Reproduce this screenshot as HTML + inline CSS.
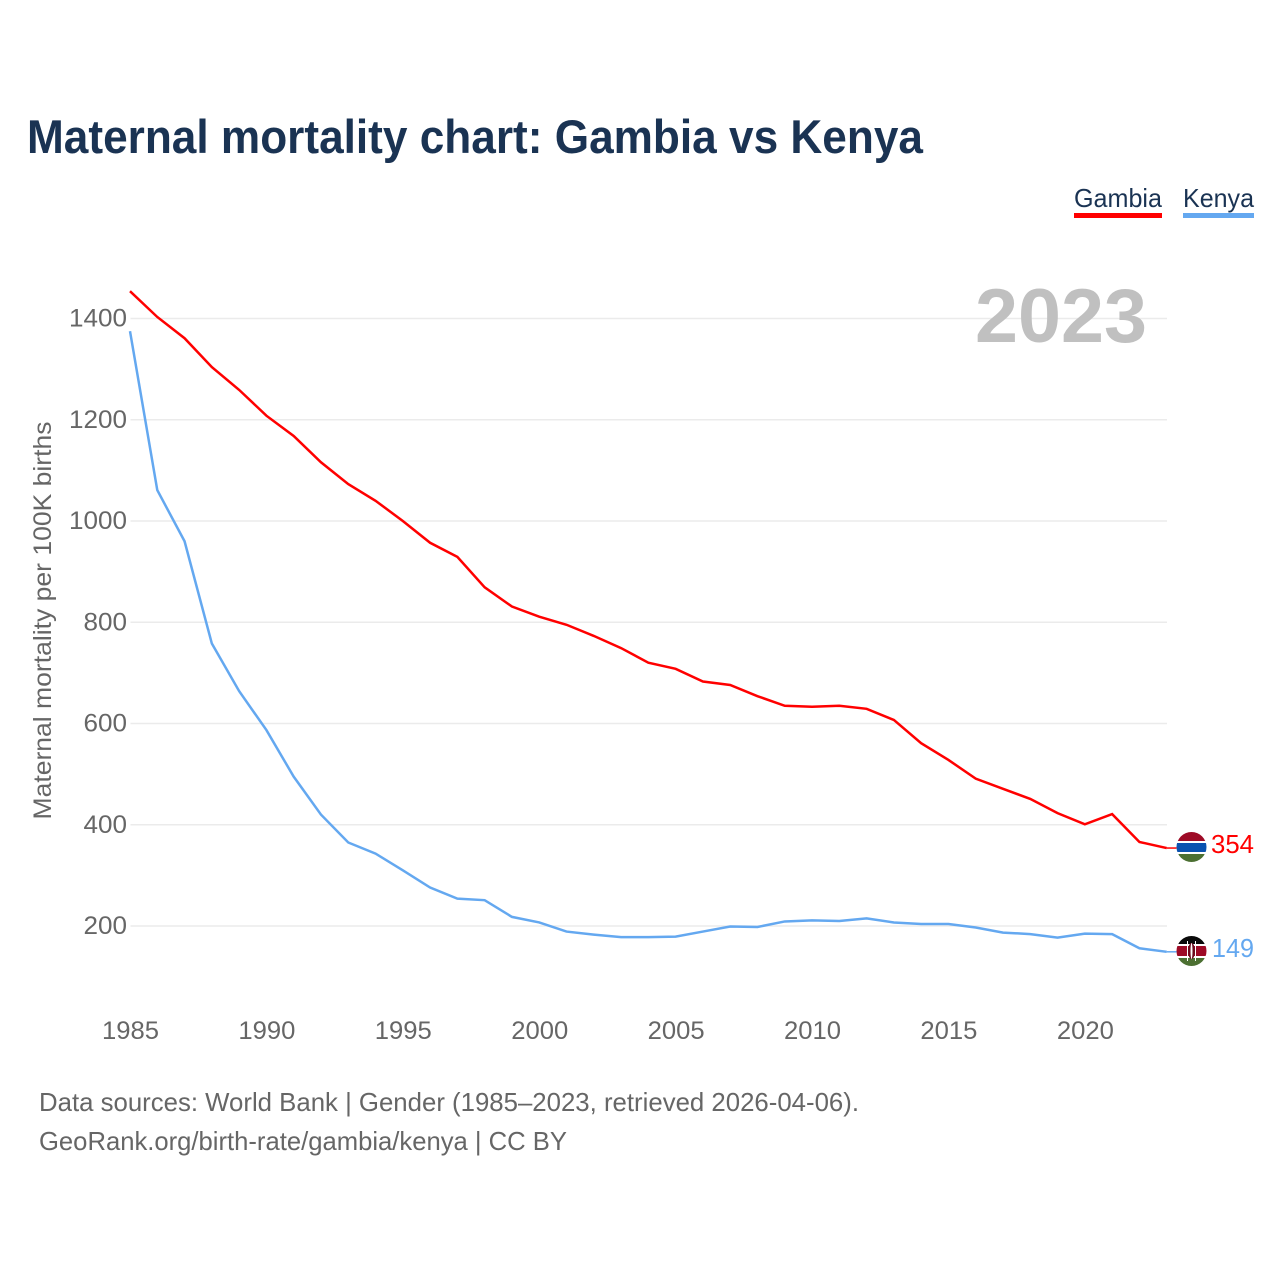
<!DOCTYPE html>
<html lang="en">
<head>
<meta charset="utf-8">
<title>Maternal mortality chart: Gambia vs Kenya</title>
<style>
html,body{margin:0;padding:0;background:#fff;}
svg{display:block;font-family:"Liberation Sans",sans-serif;}
</style>
</head>
<body>
<svg id="chart" xmlns="http://www.w3.org/2000/svg" width="1280" height="1280" viewBox="0 0 1280 1280">
  <rect x="0" y="0" width="1280" height="1280" fill="#ffffff"/>
  <text x="27" y="153" font-size="47" font-weight="700" fill="#1a3353" textLength="896" lengthAdjust="spacingAndGlyphs">Maternal mortality chart: Gambia vs Kenya</text>

  <g>
    <text x="1074" y="207" font-size="26" fill="#1a3353" textLength="88" lengthAdjust="spacingAndGlyphs">Gambia</text>
    <rect x="1074" y="213" width="88" height="5" fill="#ff0000"/>
  </g>
  <g>
    <text x="1183" y="207" font-size="26" fill="#1a3353" textLength="71" lengthAdjust="spacingAndGlyphs">Kenya</text>
    <rect x="1183" y="213" width="71" height="5" fill="#64a8f0"/>
  </g>

  <g id="grid"></g>
  <text x="975" y="342" font-size="76" font-weight="700" fill="#c0c0c0" textLength="172" lengthAdjust="spacingAndGlyphs">2023</text>
  <g id="yticks"></g>
  <g id="xticks"></g>
  <text transform="translate(51,620.5) rotate(-90)" font-size="25" fill="#666666" text-anchor="middle" textLength="398" lengthAdjust="spacingAndGlyphs">Maternal mortality per 100K births</text>

  <g id="series"></g>

  <defs>
    <clipPath id="clip-gambia"><circle cx="1191.5" cy="847" r="15"/></clipPath>
    <clipPath id="clip-kenya"><circle cx="1191.5" cy="951" r="15"/></clipPath>
  </defs>

  <g id="flag-gambia" clip-path="url(#clip-gambia)">
    <rect x="1176" y="832" width="31" height="31" fill="#ffffff"/>
    <rect x="1176" y="832" width="31" height="9" fill="#9e0b26"/>
    <rect x="1176" y="843" width="31" height="9" fill="#0a52b0"/>
    <rect x="1176" y="854" width="31" height="9" fill="#4c7032"/>
  </g>
  <g id="flag-kenya" clip-path="url(#clip-kenya)">
    <rect x="1176" y="936" width="31" height="31" fill="#ffffff"/>
    <rect x="1176" y="936" width="31" height="8" fill="#0a0a0a"/>
    <rect x="1176" y="946" width="31" height="10" fill="#9e0b26"/>
    <rect x="1176" y="958" width="31" height="9" fill="#4c7032"/>
    <line x1="1187.5" y1="941" x2="1187.5" y2="961" stroke="#ffffff" stroke-width="1"/>
    <line x1="1195.5" y1="941" x2="1195.5" y2="961" stroke="#ffffff" stroke-width="1"/>
    <ellipse cx="1191.5" cy="951" rx="3.5" ry="8" fill="#6b0a1c"/>
    <ellipse cx="1191.5" cy="951" rx="1" ry="8" fill="#ffffff"/>
  </g>
  <text id="end-gambia" x="1211" y="853" font-size="26" fill="#ff0000" textLength="43" lengthAdjust="spacingAndGlyphs"></text>
  <text id="end-kenya" x="1212" y="957" font-size="26" fill="#64a8f0" textLength="42" lengthAdjust="spacingAndGlyphs"></text>

  <text x="39" y="1111" font-size="26" fill="#666666" textLength="820" lengthAdjust="spacingAndGlyphs">Data sources: World Bank | Gender (1985–2023, retrieved 2026-04-06).</text>
  <text x="39" y="1150" font-size="26" fill="#666666" textLength="528" lengthAdjust="spacingAndGlyphs">GeoRank.org/birth-rate/gambia/kenya | CC BY</text>
</svg>

<script>
const years = [1985,1986,1987,1988,1989,1990,1991,1992,1993,1994,1995,1996,1997,1998,1999,2000,2001,2002,2003,2004,2005,2006,2007,2008,2009,2010,2011,2012,2013,2014,2015,2016,2017,2018,2019,2020,2021,2022,2023];
const gambiaValues = [1454,1403,1361,1304,1259,1208,1168,1116,1073,1040,1000,957,929,869,831,811,795,773,749,720,708,683,676,654,635,633,635,629,607,561,528,491,471,451,423,401,421,366,354];
const kenyaValues = [1375,1061,960,758,664,587,495,420,365,343,310,276,254,251,218,207,189,183,178,178,179,189,199,198,209,211,210,215,207,204,204,197,187,184,177,185,184,156,149];
const yTickValues = [200,400,600,800,1000,1200,1400];
const xTickValues = [1985,1990,1995,2000,2005,2010,2015,2020];

const SVG_NS = 'http://www.w3.org/2000/svg';
function xScale(year) { return 130 + (year - 1985) * (1036.7 / 38); }
function yScale(value) { return 926 - (value - 200) * (607.5 / 1200); }

const gridGroup = document.getElementById('grid');
const yTickGroup = document.getElementById('yticks');
yTickValues.forEach(function (tick) {
  const line = document.createElementNS(SVG_NS, 'line');
  
  
  line.setAttribute('x1', 130.5);
  line.setAttribute('x2', 1167);
  line.setAttribute('y1', yScale(tick));
  line.setAttribute('y2', yScale(tick));
  line.setAttribute('stroke', '#ebebeb');
  line.setAttribute('stroke-width', '1.5');
  gridGroup.appendChild(line);

  const label = document.createElementNS(SVG_NS, 'text');
  
  
  label.setAttribute('x', 127);
  label.setAttribute('y', yScale(tick) + 8);
  label.setAttribute('font-size', '25');
  label.setAttribute('fill', '#666666');
  label.setAttribute('text-anchor', 'end');
  label.setAttribute('textLength', String(tick).length * 14.5);
  label.setAttribute('lengthAdjust', 'spacingAndGlyphs');
  label.textContent = String(tick);
  yTickGroup.appendChild(label);
});

const xTickGroup = document.getElementById('xticks');
xTickValues.forEach(function (tick) {
  const label = document.createElementNS(SVG_NS, 'text');
  
  
  label.setAttribute('x', xScale(tick) + 0.5);
  label.setAttribute('y', 1039);
  label.setAttribute('font-size', '25');
  label.setAttribute('fill', '#666666');
  label.setAttribute('text-anchor', 'middle');
  label.setAttribute('textLength', '57');
  label.setAttribute('lengthAdjust', 'spacingAndGlyphs');
  label.textContent = String(tick);
  xTickGroup.appendChild(label);
});

function linePoints(values) {
  return values.map(function (v, i) {
    return xScale(years[i]).toFixed(2) + ',' + yScale(v).toFixed(2);
  }).join(' ');
}

const seriesGroup = document.getElementById('series');

const kenyaLine = document.createElementNS(SVG_NS, 'polyline');


kenyaLine.setAttribute('points', linePoints(kenyaValues));
kenyaLine.setAttribute('fill', 'none');
kenyaLine.setAttribute('stroke', '#64a8f0');
kenyaLine.setAttribute('stroke-width', '2.5');
seriesGroup.appendChild(kenyaLine);

const gambiaLine = document.createElementNS(SVG_NS, 'polyline');


gambiaLine.setAttribute('points', linePoints(gambiaValues));
gambiaLine.setAttribute('fill', 'none');
gambiaLine.setAttribute('stroke', '#ff0000');
gambiaLine.setAttribute('stroke-width', '2.5');
seriesGroup.appendChild(gambiaLine);

const lastGambia = gambiaValues[gambiaValues.length - 1];
const lastKenya = kenyaValues[kenyaValues.length - 1];
const lastX = xScale(years[years.length - 1]);

const gambiaLead = document.createElementNS(SVG_NS, 'line');


gambiaLead.setAttribute('x1', lastX);
gambiaLead.setAttribute('x2', lastX + 10);
gambiaLead.setAttribute('y1', yScale(lastGambia));
gambiaLead.setAttribute('y2', yScale(lastGambia));
gambiaLead.setAttribute('stroke', '#ff0000');
gambiaLead.setAttribute('stroke-width', '1.5');
seriesGroup.appendChild(gambiaLead);

const kenyaLead = document.createElementNS(SVG_NS, 'line');


kenyaLead.setAttribute('x1', lastX);
kenyaLead.setAttribute('x2', lastX + 10);
kenyaLead.setAttribute('y1', yScale(lastKenya));
kenyaLead.setAttribute('y2', yScale(lastKenya));
kenyaLead.setAttribute('stroke', '#64a8f0');
kenyaLead.setAttribute('stroke-width', '1.5');
seriesGroup.appendChild(kenyaLead);

document.getElementById('end-gambia').textContent = String(lastGambia);
document.getElementById('end-kenya').textContent = String(lastKenya);
</script>
</body>
</html>
